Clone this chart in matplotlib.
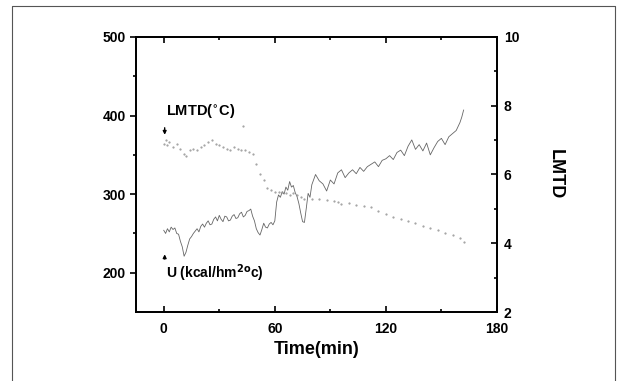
import matplotlib
matplotlib.use('Agg')
import matplotlib.pyplot as plt
from matplotlib.lines import Line2D

plt.rcParams['font.family'] = ['Liberation Sans', 'DejaVu Sans']
plt.rcParams['font.weight'] = 'bold'

# overall heat transfer coefficient U (left axis)
u_time = [0, 1, 2, 3, 4, 5, 6, 7, 8, 9, 10, 11, 12, 13, 14, 15, 16, 17, 18, 19,
          20, 21, 22, 23, 24, 25, 26, 27, 28, 29, 30, 31, 32, 33, 34, 35, 36, 37, 38, 39,
          40, 41, 42, 43, 44, 45, 46, 47, 48, 49, 50, 51, 52, 53, 54, 55, 56, 57, 58, 59,
          60, 61, 62, 63, 64, 65, 66, 67, 68, 69, 70, 71, 72, 73, 74, 75, 76, 77, 78, 79,
          80, 82, 84, 86, 88, 90, 92, 94, 96, 98, 100, 102, 104, 106, 108, 110,
          112, 114, 116, 118, 120, 122, 124, 126, 128, 130, 132, 134, 136, 138, 140, 142, 144, 146, 148, 150,
          152, 154, 156, 158, 160, 161, 162]
u_value = [254, 250, 256, 252, 258, 255, 257, 250, 249, 240, 233, 221, 226, 235, 243, 246, 250, 253, 256, 252,
           259, 262, 258, 263, 266, 261, 262, 268, 271, 266, 273, 268, 265, 272, 271, 266, 267, 272, 274, 269,
           270, 275, 277, 271, 273, 278, 279, 281, 272, 266, 256, 251, 248, 255, 263, 258, 257, 262, 264, 261,
           266, 290, 299, 296, 303, 300, 309, 305, 316, 309, 311, 302, 297, 288, 276, 265, 264, 282, 301, 296,
           312, 325, 317, 313, 304, 318, 313, 327, 331, 321, 327, 331, 326, 334, 329, 335,
           338, 341, 335, 343, 345, 349, 344, 353, 356, 349, 361, 369, 357, 363, 355, 365, 350, 359, 367, 371,
           363, 373, 377, 381, 391, 398, 407]

# log mean temperature difference (right axis)
lmtd_time = [0, 1, 2, 3, 5, 7, 9, 11, 12, 14, 16, 18, 20, 22, 24, 26, 28, 30, 32, 34,
             36, 38, 40, 42, 43, 44, 46, 48, 50, 52, 54, 56, 58, 60, 62, 64, 66, 68, 70, 72,
             74, 76, 80, 84, 88, 92, 94, 96, 100, 104, 108, 112, 116, 120, 124, 128, 132, 136, 140, 144,
             148, 152, 156, 160, 162]
lmtd_value = [6.9, 7.0, 6.85, 6.95, 6.8, 6.9, 6.75, 6.6, 6.55, 6.7, 6.75, 6.7, 6.8, 6.85, 6.95, 7.0, 6.9, 6.85, 6.8, 6.75,
              6.7, 6.8, 6.75, 6.7, 7.4, 6.72, 6.65, 6.6, 6.3, 6.0, 5.85, 5.6, 5.55, 5.5, 5.5, 5.5, 5.45, 5.4, 5.45, 5.4,
              5.35, 5.3, 5.3, 5.28, 5.25, 5.22, 5.2, 5.15, 5.18, 5.12, 5.08, 5.05, 4.95, 4.85, 4.75, 4.7, 4.65, 4.6, 4.5, 4.45,
              4.4, 4.3, 4.25, 4.15, 4.05]

fig = plt.figure(figsize=(6.17, 3.81), dpi=100)
ax = fig.add_axes([0.2204, 0.181, 0.585, 0.722])
ax2 = ax.twinx()

ax.plot(u_time, u_value, color='#666666', linewidth=0.6)
ax2.plot(lmtd_time, lmtd_value, linestyle='none', marker='.', markersize=1.1, color='#999999')

ax.set_xlim(-15, 180)
ax.set_ylim(150, 500)
ax2.set_ylim(2, 10)
ax.set_xticks([0, 60, 120, 180])
ax.set_xticks([30, 90, 150], minor=True)
ax.set_yticks([200, 300, 400, 500])
ax.set_yticks([250, 350, 450], minor=True)
ax2.set_yticks([2, 4, 6, 8, 10])
ax2.set_yticks([3, 5, 7, 9], minor=True)

for a in (ax, ax2):
    for s in a.spines.values():
        s.set_linewidth(1.3)
ax.tick_params(axis='x', which='both', direction='in', top=True, labelsize=10, width=1.2, pad=7)
ax.tick_params(axis='x', which='major', length=4)
ax.tick_params(axis='x', which='minor', length=2.5)
ax.tick_params(axis='y', which='both', direction='out', labelsize=10, width=1.2)
ax.tick_params(axis='y', which='major', length=4)
ax.tick_params(axis='y', which='minor', length=2.5)
ax2.tick_params(axis='y', which='both', direction='in', labelsize=10, width=1.2, pad=5)
ax2.tick_params(axis='y', which='major', length=4)
ax2.tick_params(axis='y', which='minor', length=2.5)

ax.set_xlabel('Time(min)', fontsize=13, fontweight='bold', labelpad=4)
ax2.set_ylabel('LMTD', fontsize=13, fontweight='bold', rotation=270, labelpad=32)

ax.text(1, 405, 'LMTD($\\mathbf{^{\\circ}}$C)', fontsize=10.5, fontweight='bold', va='center')
ax.annotate('', xy=(0.5, 372), xytext=(0.5, 388),
            arrowprops=dict(arrowstyle='-|>', color='black', lw=1, mutation_scale=5))
ax.text(1, 199, 'U (kcal/hm$\\mathbf{^{2o}}$c)', fontsize=10, fontweight='bold', va='center')
ax.annotate('', xy=(0.5, 227), xytext=(0.5, 214),
            arrowprops=dict(arrowstyle='-|>', color='black', lw=1, mutation_scale=5))

# thin frame around the figure
fig.add_artist(Line2D([12 / 617, 12 / 617, 615 / 617, 615 / 617], [0, 1 - 6 / 381, 1 - 6 / 381, 0],
                      color='#555555', linewidth=0.8))

fig.savefig('out.png', dpi=100)
